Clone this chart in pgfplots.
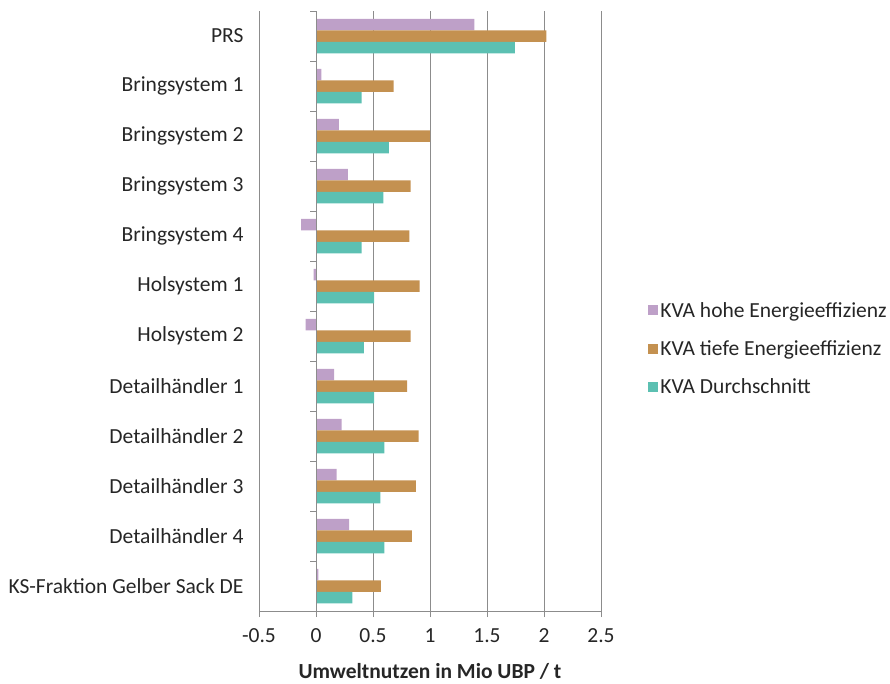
\documentclass[border=0pt]{standalone}
\usepackage{pgfplots}
\pgfplotsset{compat=1.18}
\usepackage{fontspec}
\setmainfont{Carlito}
\definecolor{hoch}{RGB}{190,160,200}
\definecolor{tief}{RGB}{196,145,80}
\definecolor{mitte}{RGB}{92,192,178}
\definecolor{gridgrey}{RGB}{140,140,140}
\begin{document}
\begin{tikzpicture}
\path[use as bounding box] (0,0) rectangle (890pt,-684pt);
\begin{axis}[
    at={(259pt,-611pt)}, anchor=south west,
    scale only axis,
    width=342pt, height=600pt,
    xbar, bar width=11.5pt,
    xmin=-0.5, xmax=2.5,
    ymin=-0.5, ymax=11.5,
    y dir=reverse,
    axis x line*=bottom,
    axis y line*=left,
    y axis line style={draw=none},
    ytick style={draw=none},
    xtick={-0.5,0,0.5,1,1.5,2,2.5},
    xticklabels={-0.5,0,0.5,1,1.5,2,2.5},
    tick align=outside,
    major tick length=6pt,
    x axis line style={gridgrey, line width=0.8pt},
    x tick style={gridgrey, line width=0.8pt},
    xmajorgrids,
    grid style={gridgrey, line width=0.8pt},
    ytick={0,...,11},
    yticklabels={PRS, Bringsystem 1, Bringsystem 2, Bringsystem 3, Bringsystem 4, Holsystem 1, Holsystem 2, Detailhändler 1, Detailhändler 2, Detailhändler 3, Detailhändler 4, KS-Fraktion Gelber Sack DE},
    ticklabel style={font=\fontsize{21.5}{25}\selectfont, text=black!85},
    yticklabel style={xshift=-6pt},
    xticklabel style={yshift=-8pt},
    /pgf/number format/assume math mode=true,
    xlabel={\textbf{Umweltnutzen in Mio UBP / t}},
    xlabel style={font=\fontsize{21.5}{25}\selectfont, text=black!85, yshift=-14pt},
    legend style={draw=none, fill=none, at={(1.129,0.437)}, anchor=west,
        font=\fontsize{21.5}{25}\selectfont, row sep=18pt,
        legend cell align=left, text=black!85},
    legend image code/.code={\fill[#1] (0pt,-5pt) rectangle (10pt,5pt);},
]
\addplot[fill=hoch, draw=none, bar shift=11.5pt] coordinates {
(1.39,0) (0.047,1) (0.20,2) (0.28,3) (-0.13,4) (-0.02,5) (-0.09,6) (0.16,7) (0.225,8) (0.18,9) (0.29,10) (0.02,11)};
\addlegendentry{KVA hohe Energieeffizienz}
\addplot[fill=tief, draw=none, bar shift=0pt] coordinates {
(2.02,0) (0.68,1) (1.00,2) (0.83,3) (0.82,4) (0.91,5) (0.83,6) (0.80,7) (0.90,8) (0.875,9) (0.84,10) (0.57,11)};
\addlegendentry{KVA tiefe Energieeffizienz}
\addplot[fill=mitte, draw=none, bar shift=-11.5pt] coordinates {
(1.745,0) (0.40,1) (0.64,2) (0.59,3) (0.40,4) (0.51,5) (0.42,6) (0.51,7) (0.60,8) (0.565,9) (0.60,10) (0.32,11)};
\addlegendentry{KVA Durchschnitt}
\draw[gridgrey, line width=0.8pt] (axis cs:0,-0.5) -- (axis cs:0,11.5);
\pgfplotsinvokeforeach{-0.5,0.5,1.5,2.5,3.5,4.5,5.5,6.5,7.5,8.5,9.5,10.5,11.5}{
  \draw[gridgrey, line width=0.8pt] ([xshift=-6pt]axis cs:0,#1) -- (axis cs:0,#1);
}
\end{axis}
\end{tikzpicture}
\end{document}
